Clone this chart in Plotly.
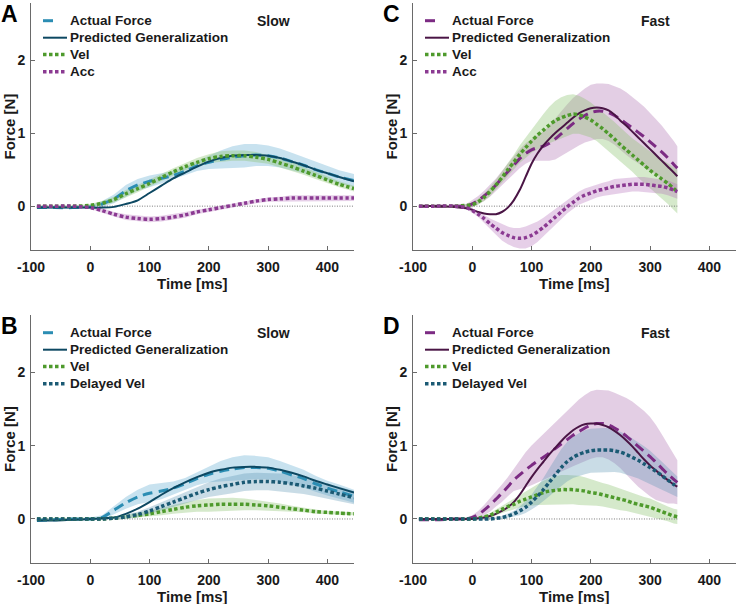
import plotly.graph_objects as go

W, H = 737, 604
FONT = "Liberation Sans, Arial, Helvetica, sans-serif"

# ---------------- data ----------------
T_SLOW = [-90, -60, -30, 0, 20, 40, 60, 80, 100, 120, 140, 160, 180, 200, 220,
          240, 260, 280, 300, 320, 340, 360, 380, 400, 420, 445]
T_FAST = [-90, -60, -30, -10, 0, 10, 20, 30, 40, 50, 60, 70, 80, 90, 100, 110,
          120, 130, 140, 150, 160, 170, 180, 190, 200, 210, 220, 230, 240, 250,
          260, 270, 280, 290, 300, 310, 320, 330, 340, 346]

X_TICKS = [-100, 0, 100, 200, 300, 400]
X_TICKTEXT = ["-100", "0", "100", "200", "300", "400"]
Y_TICKS = [0, 1, 2]

# Panel A (slow)
A_ACT = [-0.02, -0.02, -0.02, -0.01, 0.03, 0.10, 0.21, 0.29, 0.34, 0.38, 0.42, 0.48, 0.55,
         0.60, 0.64, 0.67, 0.69, 0.70, 0.69, 0.66, 0.61, 0.56, 0.50, 0.45, 0.40, 0.35]
A_ACT_SD = [0.02, 0.02, 0.02, 0.02, 0.04, 0.06, 0.08, 0.08, 0.08, 0.07, 0.06, 0.06, 0.07,
            0.09, 0.12, 0.15, 0.16, 0.15, 0.14, 0.13, 0.12, 0.11, 0.10, 0.10, 0.09, 0.09]
A_PRED = [-0.02, -0.02, -0.02, -0.02, -0.02, -0.01, 0.03, 0.08, 0.18, 0.28, 0.38, 0.46, 0.54,
          0.61, 0.66, 0.69, 0.70, 0.70, 0.69, 0.66, 0.61, 0.56, 0.50, 0.45, 0.40, 0.34]
A_VEL = [0.0, 0.0, 0.0, 0.01, 0.04, 0.09, 0.17, 0.24, 0.31, 0.39, 0.47, 0.54, 0.60,
         0.65, 0.68, 0.69, 0.69, 0.67, 0.64, 0.59, 0.54, 0.48, 0.42, 0.36, 0.30, 0.24]
A_VEL_SD = [0.01, 0.01, 0.01, 0.02, 0.03, 0.04, 0.05, 0.05, 0.05, 0.05, 0.05, 0.05, 0.06,
            0.06, 0.07, 0.07, 0.07, 0.07, 0.06, 0.06, 0.06, 0.05, 0.05, 0.05, 0.04, 0.04]
A_ACC = [0.0, 0.0, 0.0, -0.02, -0.06, -0.11, -0.15, -0.17, -0.18, -0.17, -0.15, -0.12, -0.08,
         -0.05, -0.02, 0.01, 0.04, 0.07, 0.09, 0.10, 0.11, 0.11, 0.11, 0.11, 0.11, 0.11]
A_ACC_SD = [0.01, 0.01, 0.01, 0.02, 0.03, 0.03, 0.04, 0.04, 0.04, 0.04, 0.04, 0.04, 0.03,
            0.03, 0.03, 0.03, 0.03, 0.03, 0.03, 0.03, 0.04, 0.04, 0.04, 0.04, 0.04, 0.04]

# Panel B (slow)
B_ACT = [-0.02, -0.01, 0.0, 0.0, 0.02, 0.12, 0.22, 0.30, 0.35, 0.38, 0.42, 0.48, 0.55,
         0.61, 0.65, 0.68, 0.70, 0.70, 0.69, 0.65, 0.60, 0.55, 0.48, 0.42, 0.37, 0.31]
B_ACT_SD = [0.02, 0.02, 0.02, 0.02, 0.03, 0.06, 0.08, 0.10, 0.12, 0.11, 0.09, 0.08, 0.09,
            0.11, 0.14, 0.16, 0.17, 0.16, 0.15, 0.14, 0.13, 0.12, 0.11, 0.10, 0.10, 0.09]
B_PRED = [-0.02, -0.02, -0.01, 0.0, 0.01, 0.02, 0.07, 0.14, 0.23, 0.33, 0.42, 0.50, 0.57,
          0.63, 0.67, 0.70, 0.71, 0.71, 0.70, 0.67, 0.63, 0.58, 0.52, 0.47, 0.42, 0.36]
B_VEL = [0.0, 0.0, 0.0, 0.0, 0.0, 0.01, 0.03, 0.05, 0.07, 0.10, 0.13, 0.16, 0.18,
         0.19, 0.20, 0.20, 0.20, 0.19, 0.18, 0.16, 0.14, 0.12, 0.10, 0.09, 0.08, 0.07]
B_VEL_SD = [0.01, 0.01, 0.01, 0.01, 0.01, 0.01, 0.02, 0.03, 0.04, 0.05, 0.06, 0.07, 0.08,
            0.09, 0.09, 0.09, 0.08, 0.07, 0.06, 0.05, 0.04, 0.03, 0.03, 0.02, 0.02, 0.02]
B_DVEL = [0.0, 0.0, 0.0, 0.0, 0.0, 0.01, 0.03, 0.06, 0.11, 0.17, 0.23, 0.29, 0.35,
          0.40, 0.44, 0.47, 0.50, 0.51, 0.51, 0.50, 0.48, 0.45, 0.42, 0.38, 0.34, 0.29]
B_DVEL_SD = [0.01, 0.01, 0.01, 0.01, 0.01, 0.02, 0.03, 0.04, 0.05, 0.06, 0.07, 0.08, 0.09,
             0.10, 0.11, 0.12, 0.12, 0.12, 0.12, 0.12, 0.12, 0.11, 0.11, 0.10, 0.10, 0.09]

# Panel C (fast)
C_ACT = [0.0, 0.0, 0.0, 0.0, 0.03, 0.08, 0.14, 0.21, 0.29, 0.38, 0.47, 0.56, 0.65, 0.72,
         0.77, 0.80, 0.82, 0.86, 0.92, 0.99, 1.06, 1.13, 1.19, 1.24, 1.28, 1.30, 1.30, 1.28,
         1.24, 1.19, 1.13, 1.07, 1.01, 0.95, 0.88, 0.81, 0.74, 0.66, 0.57, 0.52]
C_ACT_SD = [0.01, 0.01, 0.02, 0.03, 0.05, 0.06, 0.07, 0.08, 0.09, 0.10, 0.11, 0.12, 0.13,
            0.14, 0.15, 0.17, 0.20, 0.24, 0.28, 0.31, 0.33, 0.35, 0.36, 0.37, 0.38, 0.38,
            0.38, 0.39, 0.40, 0.42, 0.43, 0.43, 0.42, 0.41, 0.40, 0.38, 0.36, 0.34, 0.32, 0.30]
C_PRED = [0.0, 0.0, -0.01, -0.03, -0.05, -0.08, -0.10, -0.11, -0.11, -0.08, -0.02, 0.08,
          0.22, 0.40, 0.58, 0.72, 0.83, 0.92, 1.00, 1.07, 1.14, 1.21, 1.27, 1.31, 1.34, 1.35,
          1.34, 1.31, 1.25, 1.17, 1.10, 1.02, 0.94, 0.86, 0.78, 0.70, 0.62, 0.54, 0.46, 0.41]
C_VEL = [0.0, 0.0, 0.0, 0.01, 0.02, 0.06, 0.12, 0.20, 0.29, 0.39, 0.50, 0.60, 0.71, 0.80,
         0.89, 0.97, 1.04, 1.11, 1.17, 1.21, 1.24, 1.26, 1.25, 1.22, 1.18, 1.12, 1.06, 0.99,
         0.92, 0.84, 0.77, 0.70, 0.63, 0.56, 0.49, 0.43, 0.37, 0.31, 0.24, 0.20]
C_VEL_SD = [0.01, 0.01, 0.01, 0.02, 0.03, 0.04, 0.05, 0.06, 0.07, 0.08, 0.09, 0.10, 0.12,
            0.14, 0.16, 0.19, 0.22, 0.25, 0.27, 0.28, 0.28, 0.27, 0.26, 0.25, 0.24, 0.23,
            0.23, 0.23, 0.23, 0.23, 0.23, 0.23, 0.24, 0.24, 0.25, 0.26, 0.27, 0.28, 0.29, 0.30]
C_ACC = [0.0, 0.0, 0.0, -0.02, -0.06, -0.11, -0.17, -0.24, -0.30, -0.36, -0.40, -0.43,
         -0.44, -0.43, -0.40, -0.35, -0.29, -0.22, -0.15, -0.08, -0.01, 0.05, 0.11, 0.15,
         0.18, 0.21, 0.23, 0.25, 0.27, 0.28, 0.29, 0.30, 0.30, 0.30, 0.29, 0.28, 0.27, 0.25,
         0.22, 0.20]
C_ACC_SD = [0.01, 0.01, 0.01, 0.02, 0.03, 0.04, 0.05, 0.07, 0.09, 0.11, 0.12, 0.13, 0.14,
            0.15, 0.15, 0.14, 0.13, 0.12, 0.11, 0.10, 0.09, 0.09, 0.09, 0.09, 0.09, 0.09,
            0.09, 0.09, 0.10, 0.10, 0.10, 0.10, 0.10, 0.10, 0.10, 0.10, 0.10, 0.10, 0.10, 0.10]

# Panel D (fast)
D_ACT = [-0.01, -0.01, 0.0, 0.0, 0.02, 0.06, 0.12, 0.19, 0.27, 0.35, 0.44, 0.53, 0.60,
         0.67, 0.73, 0.79, 0.84, 0.90, 0.96, 1.02, 1.08, 1.14, 1.19, 1.24, 1.28, 1.30,
         1.30, 1.28, 1.24, 1.19, 1.13, 1.06, 0.99, 0.92, 0.85, 0.77, 0.69, 0.61, 0.54, 0.50]
D_ACT_SD = [0.01, 0.01, 0.02, 0.02, 0.03, 0.05, 0.07, 0.09, 0.10, 0.12, 0.13, 0.15, 0.20,
            0.24, 0.27, 0.29, 0.31, 0.33, 0.35, 0.37, 0.40, 0.42, 0.44, 0.45, 0.46, 0.46,
            0.46, 0.47, 0.48, 0.50, 0.52, 0.54, 0.55, 0.55, 0.54, 0.51, 0.46, 0.40, 0.33, 0.30]
D_PRED = [0.0, 0.0, 0.0, 0.0, 0.0, 0.01, 0.02, 0.04, 0.07, 0.11, 0.16, 0.23, 0.33, 0.45,
          0.57, 0.68, 0.78, 0.88, 0.97, 1.06, 1.14, 1.21, 1.26, 1.29, 1.30, 1.30, 1.28,
          1.25, 1.20, 1.14, 1.07, 0.99, 0.90, 0.81, 0.73, 0.66, 0.59, 0.53, 0.47, 0.44]
D_VEL = [0.0, 0.0, 0.0, 0.0, 0.0, 0.01, 0.03, 0.05, 0.09, 0.13, 0.17, 0.20, 0.24, 0.27,
         0.30, 0.33, 0.36, 0.38, 0.39, 0.40, 0.40, 0.40, 0.39, 0.38, 0.36, 0.35, 0.33,
         0.31, 0.29, 0.27, 0.25, 0.22, 0.20, 0.18, 0.16, 0.13, 0.10, 0.07, 0.04, 0.03]
D_VEL_SD = [0.01, 0.01, 0.01, 0.01, 0.01, 0.01, 0.02, 0.03, 0.04, 0.05, 0.06, 0.07, 0.08,
            0.10, 0.12, 0.14, 0.16, 0.18, 0.19, 0.20, 0.20, 0.20, 0.20, 0.19, 0.18, 0.17,
            0.16, 0.16, 0.15, 0.15, 0.14, 0.13, 0.13, 0.12, 0.12, 0.11, 0.11, 0.10, 0.10, 0.10]
D_DVEL = [0.0, 0.0, 0.0, 0.0, 0.0, 0.0, 0.0, 0.0, 0.01, 0.02, 0.04, 0.07, 0.11, 0.16,
          0.23, 0.31, 0.40, 0.50, 0.60, 0.70, 0.78, 0.84, 0.88, 0.91, 0.93, 0.94, 0.94,
          0.94, 0.93, 0.91, 0.88, 0.84, 0.80, 0.75, 0.70, 0.65, 0.59, 0.53, 0.47, 0.44]
D_DVEL_SD = [0.01, 0.01, 0.01, 0.01, 0.01, 0.01, 0.01, 0.01, 0.01, 0.02, 0.03, 0.04, 0.06,
             0.08, 0.10, 0.13, 0.16, 0.19, 0.22, 0.25, 0.27, 0.28, 0.29, 0.30, 0.30, 0.30,
             0.30, 0.30, 0.29, 0.28, 0.27, 0.26, 0.25, 0.24, 0.23, 0.21, 0.19, 0.17, 0.15, 0.14]

# ---------------- styling ----------------
COL = dict(slow_act="#2b8db3", slow_pred="#0d4862", fast_act="#7c2b83", fast_pred="#4a1545",
           vel="#4e9a2c", acc="#8b3a92", dvel="#1b5a74")
BAND = dict(slow_act="rgba(110,178,212,0.38)", vel="rgba(135,192,105,0.35)",
            acc="rgba(178,105,182,0.32)", fast_act="rgba(168,104,172,0.32)",
            dvel="rgba(92,148,178,0.33)")
STYLE = {
    "dash": dict(width=3, dash="10px,6px"),
    "solid": dict(width=2, dash="solid"),
    "dot": dict(width=3.5, dash="3.5px,2.5px"),
}
TXT = "#1a1a1a"
AXC = "#6a6a6a"

panels = [
    dict(letter="A", x0=31, x1=354, y0=3, y1=250, T=T_SLOW, cond="Slow", series=[
        ("Actual Force", A_ACT, A_ACT_SD, COL["slow_act"], BAND["slow_act"], "dash"),
        ("Predicted Generalization", A_PRED, None, COL["slow_pred"], None, "solid"),
        ("Vel", A_VEL, A_VEL_SD, COL["vel"], BAND["vel"], "dot"),
        ("Acc", A_ACC, A_ACC_SD, COL["acc"], BAND["acc"], "dot")]),
    dict(letter="C", x0=413, x1=736, y0=3, y1=250, T=T_FAST, cond="Fast", series=[
        ("Actual Force", C_ACT, C_ACT_SD, COL["fast_act"], BAND["fast_act"], "dash"),
        ("Predicted Generalization", C_PRED, None, COL["fast_pred"], None, "solid"),
        ("Vel", C_VEL, C_VEL_SD, COL["vel"], BAND["vel"], "dot"),
        ("Acc", C_ACC, C_ACC_SD, COL["acc"], BAND["acc"], "dot")]),
    dict(letter="B", x0=31, x1=354, y0=315, y1=563, T=T_SLOW, cond="Slow", series=[
        ("Actual Force", B_ACT, B_ACT_SD, COL["slow_act"], BAND["slow_act"], "dash"),
        ("Predicted Generalization", B_PRED, None, COL["slow_pred"], None, "solid"),
        ("Vel", B_VEL, B_VEL_SD, COL["vel"], BAND["vel"], "dot"),
        ("Delayed Vel", B_DVEL, B_DVEL_SD, COL["dvel"], BAND["dvel"], "dot")]),
    dict(letter="D", x0=413, x1=736, y0=315, y1=563, T=T_FAST, cond="Fast", series=[
        ("Actual Force", D_ACT, D_ACT_SD, COL["fast_act"], BAND["fast_act"], "dash"),
        ("Predicted Generalization", D_PRED, None, COL["fast_pred"], None, "solid"),
        ("Vel", D_VEL, D_VEL_SD, COL["vel"], BAND["vel"], "dot"),
        ("Delayed Vel", D_DVEL, D_DVEL_SD, COL["dvel"], BAND["dvel"], "dot")]),
]


def fx(p):
    return p / W


def fy(p):
    return 1 - p / H


fig = go.Figure()
layout = dict(template="none", width=W, height=H, margin=dict(l=0, r=0, t=0, b=0, pad=0),
              paper_bgcolor="white", plot_bgcolor="white", showlegend=False,
              font=dict(family=FONT, color=TXT, weight="bold"))
annotations = []
shapes = []

for i, p in enumerate(panels, start=1):
    xa = "x" if i == 1 else f"x{i}"
    ya = "y" if i == 1 else f"y{i}"
    T = p["T"]
    # bands
    for name, mean, sd, col, band, sty in p["series"]:
        if sd is None:
            continue
        up = [m + s for m, s in zip(mean, sd)]
        lo = [m - s for m, s in zip(mean, sd)]
        fig.add_trace(go.Scatter(x=T + T[::-1], y=up + lo[::-1], fill="toself",
                                 fillcolor=band, line=dict(width=0), mode="lines",
                                 hoverinfo="skip", xaxis=xa, yaxis=ya))
    # zero line
    fig.add_trace(go.Scatter(x=[T[0], T[-1]], y=[0, 0], mode="lines",
                             line=dict(color="#777777", width=1, dash="1px,1.5px"),
                             hoverinfo="skip", xaxis=xa, yaxis=ya))
    # mean lines
    for name, mean, sd, col, band, sty in p["series"]:
        st = STYLE[sty]
        fig.add_trace(go.Scatter(x=T, y=mean, mode="lines", name=name,
                                 line=dict(color=col, width=st["width"], dash=st["dash"],
                                           shape="spline", smoothing=0.8),
                                 xaxis=xa, yaxis=ya))

    kx = "xaxis" if i == 1 else f"xaxis{i}"
    ky = "yaxis" if i == 1 else f"yaxis{i}"
    common = dict(showline=True, linecolor=AXC, linewidth=1, ticks="inside", ticklen=4,
                  tickcolor=AXC, showgrid=False, zeroline=False, automargin=False,
                  tickfont=dict(family=FONT, size=14, color=TXT, weight="bold"))
    layout[kx] = dict(domain=[fx(p["x0"]), fx(p["x1"])], range=[-100, 445],
                      tickvals=X_TICKS, ticktext=X_TICKTEXT, anchor=ya,
                      ticklabelstandoff=4, **common)
    layout[ky] = dict(domain=[fy(p["y1"]), fy(p["y0"])], range=[-0.6, 2.78],
                      tickvals=Y_TICKS, anchor=xa, ticklabelstandoff=2, **common)

    x0, x1, y0, y1 = p["x0"], p["x1"], p["y0"], p["y1"]
    # axis titles
    annotations.append(dict(text="Time [ms]", x=fx((x0 + x1) / 2), y=fy(y1 + 33),
                            xref="paper", yref="paper", showarrow=False,
                            xanchor="center", yanchor="middle",
                            font=dict(size=15, family=FONT, color=TXT, weight="bold")))
    annotations.append(dict(text="Force [N]", x=fx(x0 - 22), y=fy((y0 + y1) / 2),
                            xref="paper", yref="paper", showarrow=False, textangle=-90,
                            xanchor="center", yanchor="middle",
                            font=dict(size=15, family=FONT, color=TXT, weight="bold")))
    # panel letter
    annotations.append(dict(text=p["letter"], x=fx(x0 - 22), y=fy(y0 + 11),
                            xref="paper", yref="paper", showarrow=False,
                            xanchor="center", yanchor="middle",
                            font=dict(size=23, family=FONT, color="#000000", weight="bold")))
    # condition
    annotations.append(dict(text=p["cond"], x=fx(x0 + 242), y=fy(y0 + 18),
                            xref="paper", yref="paper", showarrow=False,
                            xanchor="center", yanchor="middle",
                            font=dict(size=14, family=FONT, color=TXT, weight="bold")))
    # legend (samples + labels)
    rows = [17.7, 34.7, 51.5, 68.7]
    for (name, mean, sd, col, band, sty), r in zip(p["series"], rows):
        st = STYLE[sty]
        dash = "10px,30px" if sty == "dash" else st["dash"]
        shapes.append(dict(type="line", xref="paper", yref="paper",
                           x0=fx(x0 + 12), x1=fx(x0 + 36), y0=fy(y0 + r), y1=fy(y0 + r),
                           line=dict(color=col, width=st["width"], dash=dash)))
        annotations.append(dict(text=name, x=fx(x0 + 37), y=fy(y0 + r),
                                xref="paper", yref="paper", showarrow=False,
                                xanchor="left", yanchor="middle",
                                font=dict(size=13.5, family=FONT, color=TXT, weight="bold")))

layout["annotations"] = annotations
layout["shapes"] = shapes
fig.update_layout(**layout)
# remove the browser's default page margin so the figure sits at the window origin
fig.write_html("out.html", config={"displayModeBar": False},
               post_script="document.body.style.margin='0';document.body.style.overflow='hidden';")
